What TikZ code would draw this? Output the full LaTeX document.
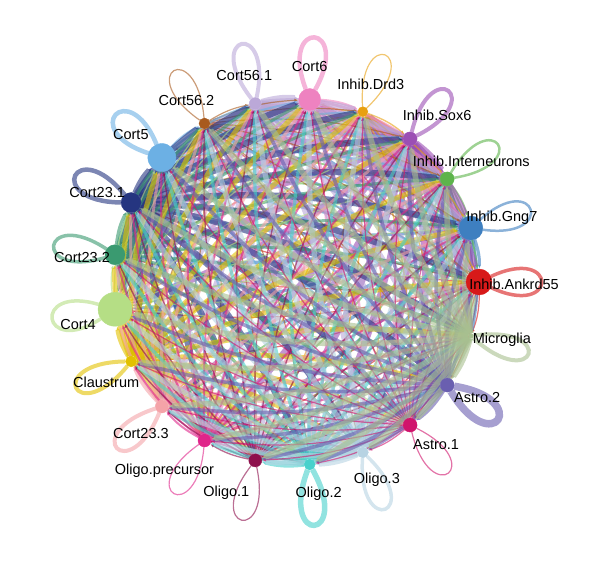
\documentclass[tikz,border=0pt]{standalone}
\usepackage{fontspec}
\setmainfont{Liberation Sans}
\usetikzlibrary{arrows.meta}

\definecolor{ankrd}{HTML}{D71919}
\definecolor{gngseven}{HTML}{3E7FC0}
\definecolor{interneu}{HTML}{5DB44B}
\definecolor{soxsix}{HTML}{9B4FB4}
\definecolor{drdthree}{HTML}{E8A010}
\definecolor{cortsix}{HTML}{EE82C0}
\definecolor{cortfsone}{HTML}{BBA8D8}
\definecolor{cortfstwo}{HTML}{A85A1E}
\definecolor{cortfive}{HTML}{6CB0E4}
\definecolor{corttone}{HTML}{253580}
\definecolor{cortttwo}{HTML}{3A9A70}
\definecolor{cortfour}{HTML}{B5DE85}
\definecolor{claus}{HTML}{E2C100}
\definecolor{corttthree}{HTML}{F4A3A8}
\definecolor{oligopre}{HTML}{E0258A}
\definecolor{oligoone}{HTML}{8E0F4C}
\definecolor{oligotwo}{HTML}{48D1CC}
\definecolor{oligothree}{HTML}{B7D3E3}
\definecolor{astroone}{HTML}{D0146C}
\definecolor{astrotwo}{HTML}{6A5FB0}
\definecolor{micro}{HTML}{A8C090}

\pgfdeclarelayer{edges}
\pgfsetlayers{edges,main}

% name / colour / node size / base width / label shift
\def\cells{Inhib.Ankrd55/ankrd/26/3.5/35/-2,
  Inhib.Gng7/gngseven/24/2.5/31/10,
  Inhib.Interneurons/interneu/14/2.5/24/18,
  Inhib.Sox6/soxsix/14/4/27/24,
  Inhib.Drd3/drdthree/10/1.2/8/27,
  Cort6/cortsix/22/4.5/0/33,
  Cort56.1/cortfsone/12/4/-11/28,
  Cort56.2/cortfstwo/11/1.2/-18/23,
  Cort5/cortfive/28/4.5/-31/23,
  Cort23.1/corttone/20/4.5/-34/10,
  Cort23.2/cortttwo/20/3.5/-33/-3,
  Cort4/cortfour/34/3.5/-37/-15,
  Claustrum/claus/11/4/-25/-21,
  Cort23.3/corttthree/13/4/-21/-27,
  Oligo.precursor/oligopre/13/1.2/-40/-30,
  Oligo.1/oligoone/13/1.2/-29/-32,
  Oligo.2/oligotwo/11/5.5/9/-29,
  Oligo.3/oligothree/11/3.5/14/-27,
  Astro.1/astroone/14/1.2/26/-20,
  Astro.2/astrotwo/14/7.5/30/-12,
  Microglia/micro/5/4/31/-4}

\begin{document}
\begin{tikzpicture}[x=1pt,y=1pt,
    cell/.style={shape=circle,inner sep=0pt,fill=#1,draw=#1},
    lbl/.style={font=\fontsize{14.5}{17}\selectfont,inner sep=0pt},
    link/.style={line width=#1,opacity=0.6,bend left=10,
      -{Latex[length=4pt,width=3.5pt]}},
    selfloop/.style={line width=#1,opacity=0.6}]
  \useasboundingbox (-296,-288) rectangle (315,282);

  % cells on the circle
  \foreach \name/\col/\d/\w/\dx/\dy [count=\i from 0] in \cells {
    \node[cell=\col,minimum size=\d pt] (n\i) at (\i*360/21:183) {};
    \node[lbl] (l\i) at ([shift={(\dx,\dy)}]n\i.center) {\name};
  }

  % interactions, coloured by sender
  \begin{pgfonlayer}{edges}
    \foreach \name/\col/\d/\w/\dx/\dy [count=\i from 0] in \cells {
      \pgfmathsetmacro\ang{\i*360/21}
      \draw[selfloop=\w pt,\col] (n\i) .. controls +(\ang+25:88) and +(\ang-25:88) .. (n\i);
      \foreach \j in {0,...,20} {
        \ifnum\i=\j\else
          \pgfmathsetmacro\lw{\w*(0.35+0.13*mod(7*\i+11*\j,11))}
          \draw[link=\lw pt,\col] (n\i) to (n\j);
        \fi
      }
    }
  \end{pgfonlayer}
\end{tikzpicture}
\end{document}
